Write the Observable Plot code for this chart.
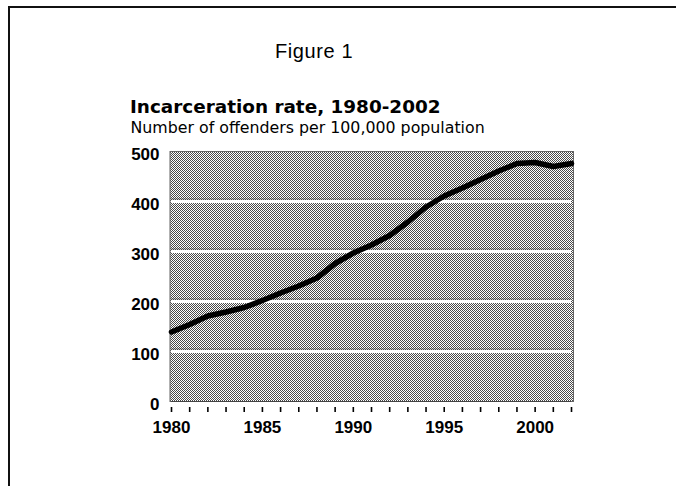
<!DOCTYPE html>
<html>
<head>
<meta charset="utf-8">
<script src="https://cdn.jsdelivr.net/npm/d3@7"></script>
<script src="https://cdn.jsdelivr.net/npm/@observablehq/plot@0.6"></script>
<style>
  html, body { margin: 0; padding: 0; background: #fff; }
  #wrap { position: relative; width: 676px; height: 486px; overflow: hidden; background: #fff; }
  #border { position: absolute; left: 8px; top: 6px; width: 720px; height: 520px;
            border-top: 2px solid #111; border-left: 2px solid #111; }
  .t { position: absolute; white-space: nowrap; color: #000; line-height: 1; }
  #fig { left: 275px; top: 40px; font: 20px "Liberation Sans", Arial, sans-serif; letter-spacing: 0.6px; }
  #title { left: 130px; top: 96px; font: bold 18.4px "DejaVu Sans", sans-serif; }
  #sub { left: 130.5px; top: 117.5px; font: 15.8px "DejaVu Sans", sans-serif; }
  #chart { position: absolute; left: 0; top: 0; }
</style>
</head>
<body>
<div id="wrap">
  <div id="border"></div>
  <div class="t" id="fig">Figure 1</div>
  <div class="t" id="title">Incarceration rate, 1980-2002</div>
  <div class="t" id="sub">Number of offenders per 100,000 population</div>
  <div id="chart"></div>
</div>
<script>
const years = [1980, 1981, 1982, 1983, 1984, 1985, 1986, 1987, 1988, 1989, 1990, 1991,
               1992, 1993, 1994, 1995, 1996, 1997, 1998, 1999, 2000, 2001, 2002];
const rates = [139, 154, 171, 179, 188, 202, 217, 231, 247, 276, 297, 313,
               332, 359, 389, 411, 427, 444, 461, 476, 478, 470, 476];
const yTicks = [0, 100, 200, 300, 400, 500];
const gridValues = [100, 200, 300, 400];
const xLabelYears = [1980, 1985, 1990, 1995, 2000];

const data = years.map((year, i) => ({year, rate: rates[i]}));

const chart = Plot.plot({
  width: 676,
  height: 486,
  marginLeft: 171,
  marginRight: 105,
  marginTop: 151,
  marginBottom: 85,
  style: {fontFamily: "'Liberation Sans', Arial, sans-serif", color: "#000", background: "transparent"},
  x: {domain: [1980, 2002]},
  y: {domain: [0, 500]},
  marks: [
    Plot.frame({fill: "url(#dither)", stroke: "#666", strokeWidth: 1, insetLeft: -1.5, insetRight: -2, insetTop: 0, insetBottom: 0}),
    Plot.ruleY(gridValues, {stroke: "#333", strokeWidth: 1, strokeOpacity: 0.5, dy: -2.5}),
    Plot.ruleY(gridValues, {stroke: "#fff", strokeWidth: 3}),
    Plot.ruleY([0], {stroke: "#444", strokeWidth: 1.2}),
    Plot.axisY({ticks: yTicks, tickSize: 0, tickPadding: 12, fontSize: 17, fontWeight: "bold", dy: 3, label: null, tickFormat: d => String(d)}),
    Plot.axisX({ticks: years, tickSize: 5, dy: 6, tickFormat: () => "", strokeWidth: 1.6, label: null}),
    Plot.axisX({ticks: xLabelYears, tickSize: 0, tickPadding: 19, fontSize: 17, fontWeight: "bold", tickFormat: d => String(d), label: null}),
    Plot.line(data, {x: "year", y: "rate", stroke: "#000", strokeWidth: 5.5, strokeLinejoin: "round", strokeLinecap: "round"})
  ]
});

const svg = d3.select(chart);
const defs = svg.insert("defs", ":first-child");
const pat = defs.append("pattern")
  .attr("id", "dither").attr("patternUnits", "userSpaceOnUse")
  .attr("patternTransform", "translate(0.5,0.5)")
  .attr("width", 2).attr("height", 2);
pat.append("rect").attr("width", 2).attr("height", 2).attr("fill", "#ffffff");
pat.append("rect").attr("x", 0).attr("y", 0).attr("width", 1).attr("height", 1).attr("fill", "#4a4a4a");
pat.append("rect").attr("x", 1).attr("y", 1).attr("width", 1).attr("height", 1).attr("fill", "#4a4a4a");

document.getElementById("chart").appendChild(chart);
</script>
</body>
</html>
